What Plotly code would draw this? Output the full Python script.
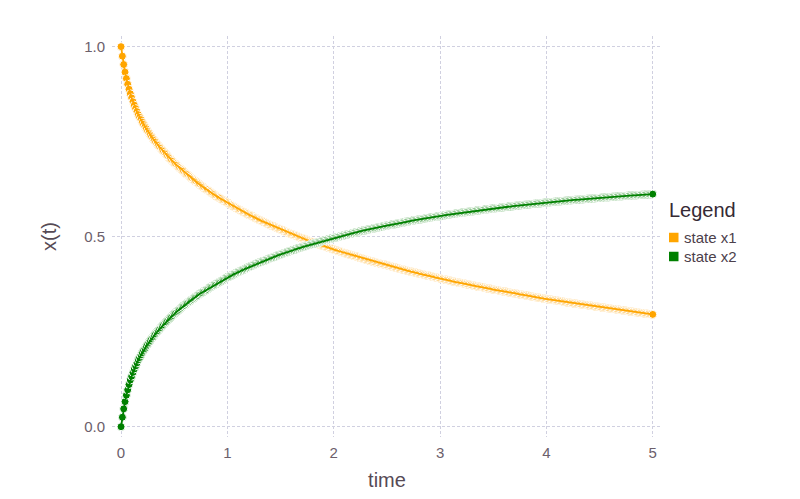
import plotly.graph_objects as go

# solver output, saved every 0.0125 time units (one row = a quarter unit)
time = [
    0.0,
    0.0125, 0.025, 0.0375, 0.05, 0.0625, 0.075, 0.0875, 0.1, 0.1125, 0.125, 0.1375, 0.15, 0.1625, 0.175, 0.1875, 0.2, 0.2125, 0.225, 0.2375, 0.25,
    0.2625, 0.275, 0.2875, 0.3, 0.3125, 0.325, 0.3375, 0.35, 0.3625, 0.375, 0.3875, 0.4, 0.4125, 0.425, 0.4375, 0.45, 0.4625, 0.475, 0.4875, 0.5,
    0.5125, 0.525, 0.5375, 0.55, 0.5625, 0.575, 0.5875, 0.6, 0.6125, 0.625, 0.6375, 0.65, 0.6625, 0.675, 0.6875, 0.7, 0.7125, 0.725, 0.7375, 0.75,
    0.7625, 0.775, 0.7875, 0.8, 0.8125, 0.825, 0.8375, 0.85, 0.8625, 0.875, 0.8875, 0.9, 0.9125, 0.925, 0.9375, 0.95, 0.9625, 0.975, 0.9875, 1.0,
    1.0125, 1.025, 1.0375, 1.05, 1.0625, 1.075, 1.0875, 1.1, 1.1125, 1.125, 1.1375, 1.15, 1.1625, 1.175, 1.1875, 1.2, 1.2125, 1.225, 1.2375, 1.25,
    1.2625, 1.275, 1.2875, 1.3, 1.3125, 1.325, 1.3375, 1.35, 1.3625, 1.375, 1.3875, 1.4, 1.4125, 1.425, 1.4375, 1.45, 1.4625, 1.475, 1.4875, 1.5,
    1.5125, 1.525, 1.5375, 1.55, 1.5625, 1.575, 1.5875, 1.6, 1.6125, 1.625, 1.6375, 1.65, 1.6625, 1.675, 1.6875, 1.7, 1.7125, 1.725, 1.7375, 1.75,
    1.7625, 1.775, 1.7875, 1.8, 1.8125, 1.825, 1.8375, 1.85, 1.8625, 1.875, 1.8875, 1.9, 1.9125, 1.925, 1.9375, 1.95, 1.9625, 1.975, 1.9875, 2.0,
    2.0125, 2.025, 2.0375, 2.05, 2.0625, 2.075, 2.0875, 2.1, 2.1125, 2.125, 2.1375, 2.15, 2.1625, 2.175, 2.1875, 2.2, 2.2125, 2.225, 2.2375, 2.25,
    2.2625, 2.275, 2.2875, 2.3, 2.3125, 2.325, 2.3375, 2.35, 2.3625, 2.375, 2.3875, 2.4, 2.4125, 2.425, 2.4375, 2.45, 2.4625, 2.475, 2.4875, 2.5,
    2.5125, 2.525, 2.5375, 2.55, 2.5625, 2.575, 2.5875, 2.6, 2.6125, 2.625, 2.6375, 2.65, 2.6625, 2.675, 2.6875, 2.7, 2.7125, 2.725, 2.7375, 2.75,
    2.7625, 2.775, 2.7875, 2.8, 2.8125, 2.825, 2.8375, 2.85, 2.8625, 2.875, 2.8875, 2.9, 2.9125, 2.925, 2.9375, 2.95, 2.9625, 2.975, 2.9875, 3.0,
    3.0125, 3.025, 3.0375, 3.05, 3.0625, 3.075, 3.0875, 3.1, 3.1125, 3.125, 3.1375, 3.15, 3.1625, 3.175, 3.1875, 3.2, 3.2125, 3.225, 3.2375, 3.25,
    3.2625, 3.275, 3.2875, 3.3, 3.3125, 3.325, 3.3375, 3.35, 3.3625, 3.375, 3.3875, 3.4, 3.4125, 3.425, 3.4375, 3.45, 3.4625, 3.475, 3.4875, 3.5,
    3.5125, 3.525, 3.5375, 3.55, 3.5625, 3.575, 3.5875, 3.6, 3.6125, 3.625, 3.6375, 3.65, 3.6625, 3.675, 3.6875, 3.7, 3.7125, 3.725, 3.7375, 3.75,
    3.7625, 3.775, 3.7875, 3.8, 3.8125, 3.825, 3.8375, 3.85, 3.8625, 3.875, 3.8875, 3.9, 3.9125, 3.925, 3.9375, 3.95, 3.9625, 3.975, 3.9875, 4.0,
    4.0125, 4.025, 4.0375, 4.05, 4.0625, 4.075, 4.0875, 4.1, 4.1125, 4.125, 4.1375, 4.15, 4.1625, 4.175, 4.1875, 4.2, 4.2125, 4.225, 4.2375, 4.25,
    4.2625, 4.275, 4.2875, 4.3, 4.3125, 4.325, 4.3375, 4.35, 4.3625, 4.375, 4.3875, 4.4, 4.4125, 4.425, 4.4375, 4.45, 4.4625, 4.475, 4.4875, 4.5,
    4.5125, 4.525, 4.5375, 4.55, 4.5625, 4.575, 4.5875, 4.6, 4.6125, 4.625, 4.6375, 4.65, 4.6625, 4.675, 4.6875, 4.7, 4.7125, 4.725, 4.7375, 4.75,
    4.7625, 4.775, 4.7875, 4.8, 4.8125, 4.825, 4.8375, 4.85, 4.8625, 4.875, 4.8875, 4.9, 4.9125, 4.925, 4.9375, 4.95, 4.9625, 4.975, 4.9875, 5.0,
]

state_x1 = [
    1.0,
    0.975, 0.953, 0.933, 0.916, 0.901, 0.888, 0.876, 0.865, 0.855, 0.846, 0.837, 0.829, 0.821, 0.814, 0.808, 0.801, 0.795, 0.789, 0.784, 0.778,
    0.773, 0.768, 0.763, 0.758, 0.753, 0.749, 0.744, 0.740, 0.736, 0.732, 0.728, 0.724, 0.720, 0.716, 0.712, 0.708, 0.705, 0.701, 0.698, 0.694,
    0.691, 0.688, 0.684, 0.681, 0.678, 0.675, 0.672, 0.668, 0.665, 0.663, 0.660, 0.657, 0.654, 0.651, 0.648, 0.646, 0.643, 0.640, 0.638, 0.635,
    0.632, 0.630, 0.627, 0.625, 0.623, 0.620, 0.618, 0.615, 0.613, 0.611, 0.608, 0.606, 0.604, 0.602, 0.600, 0.597, 0.595, 0.593, 0.591, 0.589,
    0.587, 0.585, 0.583, 0.581, 0.579, 0.577, 0.575, 0.573, 0.571, 0.569, 0.567, 0.565, 0.5635, 0.562, 0.560, 0.558, 0.5565, 0.555, 0.553, 0.551,
    0.5495, 0.548, 0.546, 0.544, 0.5425, 0.541, 0.5395, 0.538, 0.536, 0.534, 0.5325, 0.531, 0.5295, 0.528, 0.5265, 0.525, 0.5235, 0.522, 0.5205, 0.519,
    0.5175, 0.516, 0.5145, 0.513, 0.5115, 0.510, 0.5085, 0.507, 0.506, 0.505, 0.5035, 0.502, 0.5005, 0.499, 0.4975, 0.496, 0.495, 0.494, 0.4925, 0.491,
    0.4895, 0.488, 0.487, 0.486, 0.4845, 0.483, 0.482, 0.481, 0.4795, 0.478, 0.477, 0.476, 0.475, 0.474, 0.4725, 0.471, 0.470, 0.469, 0.4675, 0.466,
    0.465, 0.464, 0.463, 0.462, 0.461, 0.460, 0.4585, 0.457, 0.456, 0.455, 0.454, 0.453, 0.452, 0.451, 0.450, 0.449, 0.448, 0.447, 0.4455, 0.444,
    0.443, 0.442, 0.441, 0.440, 0.439, 0.438, 0.437, 0.436, 0.435, 0.434, 0.433, 0.432, 0.431, 0.430, 0.429, 0.428, 0.4275, 0.427, 0.426, 0.425,
    0.424, 0.423, 0.422, 0.421, 0.420, 0.419, 0.418, 0.417, 0.416, 0.415, 0.4145, 0.414, 0.413, 0.412, 0.411, 0.410, 0.409, 0.408, 0.4075, 0.407,
    0.406, 0.405, 0.404, 0.403, 0.4025, 0.402, 0.401, 0.400, 0.399, 0.398, 0.3975, 0.397, 0.396, 0.395, 0.394, 0.393, 0.3925, 0.392, 0.391, 0.390,
    0.3895, 0.389, 0.388, 0.387, 0.3865, 0.386, 0.385, 0.384, 0.383, 0.382, 0.3815, 0.381, 0.380, 0.379, 0.3785, 0.378, 0.3775, 0.377, 0.376, 0.375,
    0.3745, 0.374, 0.373, 0.372, 0.3715, 0.371, 0.370, 0.369, 0.3685, 0.368, 0.3675, 0.367, 0.366, 0.365, 0.3645, 0.364, 0.3635, 0.363, 0.362, 0.361,
    0.3605, 0.360, 0.3595, 0.359, 0.358, 0.357, 0.3565, 0.356, 0.3555, 0.355, 0.354, 0.353, 0.3525, 0.352, 0.3515, 0.351, 0.3505, 0.350, 0.349, 0.348,
    0.3475, 0.347, 0.3465, 0.346, 0.3455, 0.345, 0.344, 0.343, 0.3425, 0.342, 0.3415, 0.341, 0.3405, 0.340, 0.3395, 0.339, 0.338, 0.337, 0.3365, 0.336,
    0.3355, 0.335, 0.3345, 0.334, 0.3335, 0.333, 0.3325, 0.332, 0.3315, 0.331, 0.3305, 0.330, 0.329, 0.328, 0.3275, 0.327, 0.3265, 0.326, 0.3255, 0.325,
    0.3245, 0.324, 0.3235, 0.323, 0.3225, 0.322, 0.3215, 0.321, 0.3205, 0.320, 0.3195, 0.319, 0.3185, 0.318, 0.3175, 0.317, 0.3165, 0.316, 0.3155, 0.315,
    0.3145, 0.314, 0.3135, 0.313, 0.3125, 0.312, 0.3115, 0.311, 0.3105, 0.310, 0.3095, 0.309, 0.3085, 0.308, 0.3075, 0.307, 0.3065, 0.306, 0.3055, 0.305,
    0.3045, 0.304, 0.3035, 0.303, 0.3025, 0.302, 0.3015, 0.301, 0.3005, 0.300, 0.2995, 0.299, 0.2985, 0.298, 0.2975, 0.297, 0.2967, 0.2964, 0.296, 0.2955,
]

state_x2 = [
    0.0,
    0.025, 0.047, 0.066, 0.083, 0.097, 0.111, 0.123, 0.133, 0.143, 0.152, 0.160, 0.168, 0.176, 0.182, 0.189, 0.195, 0.201, 0.206, 0.212, 0.217,
    0.222, 0.227, 0.232, 0.236, 0.241, 0.245, 0.249, 0.253, 0.257, 0.261, 0.265, 0.269, 0.273, 0.276, 0.280, 0.283, 0.287, 0.290, 0.293, 0.297,
    0.300, 0.303, 0.306, 0.309, 0.312, 0.315, 0.318, 0.320, 0.323, 0.326, 0.329, 0.331, 0.334, 0.336, 0.339, 0.342, 0.344, 0.346, 0.349, 0.351,
    0.353, 0.356, 0.358, 0.360, 0.362, 0.365, 0.367, 0.369, 0.371, 0.373, 0.375, 0.377, 0.379, 0.381, 0.383, 0.385, 0.387, 0.389, 0.391, 0.393,
    0.3945, 0.396, 0.398, 0.400, 0.4015, 0.403, 0.405, 0.407, 0.4085, 0.410, 0.4115, 0.413, 0.4145, 0.416, 0.418, 0.420, 0.4215, 0.423, 0.4245, 0.426,
    0.4275, 0.429, 0.4305, 0.432, 0.4335, 0.435, 0.436, 0.437, 0.4385, 0.440, 0.4415, 0.443, 0.444, 0.445, 0.4465, 0.448, 0.4495, 0.451, 0.452, 0.453,
    0.4545, 0.456, 0.457, 0.458, 0.4595, 0.461, 0.462, 0.463, 0.464, 0.465, 0.4665, 0.468, 0.469, 0.470, 0.471, 0.472, 0.473, 0.474, 0.4755, 0.477,
    0.478, 0.479, 0.480, 0.481, 0.482, 0.483, 0.484, 0.485, 0.486, 0.487, 0.488, 0.489, 0.490, 0.491, 0.492, 0.493, 0.494, 0.495, 0.496, 0.497,
    0.4975, 0.498, 0.499, 0.500, 0.501, 0.502, 0.503, 0.504, 0.505, 0.506, 0.5065, 0.507, 0.508, 0.509, 0.510, 0.511, 0.5115, 0.512, 0.513, 0.514,
    0.515, 0.516, 0.5165, 0.517, 0.518, 0.519, 0.5195, 0.520, 0.521, 0.522, 0.5225, 0.523, 0.524, 0.525, 0.5255, 0.526, 0.527, 0.528, 0.5285, 0.529,
    0.530, 0.531, 0.5315, 0.532, 0.5325, 0.533, 0.534, 0.535, 0.5355, 0.536, 0.5365, 0.537, 0.538, 0.539, 0.5395, 0.540, 0.5405, 0.541, 0.542, 0.543,
    0.5435, 0.544, 0.5445, 0.545, 0.5455, 0.546, 0.5465, 0.547, 0.548, 0.549, 0.5495, 0.550, 0.5505, 0.551, 0.5515, 0.552, 0.5525, 0.553, 0.5535, 0.554,
    0.5545, 0.555, 0.556, 0.557, 0.5575, 0.558, 0.5585, 0.559, 0.5595, 0.560, 0.5605, 0.561, 0.5615, 0.562, 0.5625, 0.563, 0.5635, 0.564, 0.5645, 0.565,
    0.5653, 0.5658, 0.5663, 0.5667, 0.5672, 0.5677, 0.5682, 0.5686, 0.5691, 0.5696, 0.5700, 0.5705, 0.5709, 0.5714, 0.5719, 0.5723, 0.5728, 0.5732, 0.5736, 0.5741,
    0.5745, 0.5749, 0.5754, 0.5758, 0.5762, 0.5767, 0.5771, 0.5775, 0.5779, 0.5783, 0.5787, 0.5792, 0.5796, 0.5800, 0.5804, 0.5808, 0.5812, 0.5816, 0.5819, 0.5823,
    0.5827, 0.5831, 0.5835, 0.5839, 0.5843, 0.5846, 0.5850, 0.5854, 0.5858, 0.5861, 0.5865, 0.5869, 0.5872, 0.5876, 0.5879, 0.5883, 0.5886, 0.5890, 0.5893, 0.5897,
    0.5900, 0.5904, 0.5907, 0.5911, 0.5914, 0.5917, 0.5921, 0.5924, 0.5927, 0.5931, 0.5934, 0.5937, 0.5940, 0.5944, 0.5947, 0.5950, 0.5953, 0.5956, 0.5959, 0.5963,
    0.5966, 0.5969, 0.5972, 0.5975, 0.5978, 0.5981, 0.5984, 0.5987, 0.5990, 0.5993, 0.5996, 0.5998, 0.6001, 0.6004, 0.6007, 0.6010, 0.6013, 0.6015, 0.6018, 0.6021,
    0.6024, 0.6026, 0.6029, 0.6032, 0.6035, 0.6037, 0.6040, 0.6043, 0.6045, 0.6048, 0.6050, 0.6053, 0.6056, 0.6058, 0.6061, 0.6063, 0.6066, 0.6068, 0.6071, 0.6073,
    0.6076, 0.6078, 0.6081, 0.6083, 0.6085, 0.6088, 0.6090, 0.6092, 0.6095, 0.6097, 0.6099, 0.6102, 0.6104, 0.6106, 0.6109, 0.6111, 0.6113, 0.6115, 0.6118, 0.6120,
]

series_names = ["state x1", "state x2"]
series_colors = ["#FFA500", "#008000"]
x_ticks = [0, 1, 2, 3, 4, 5]
y_ticks = [0.0, 0.5, 1.0]

FONT = "Liberation Sans, Arial, sans-serif"

fig = go.Figure()

for vals, name, col in zip([state_x1, state_x2], series_names, series_colors):
    # points first, line drawn on top of them
    fig.add_trace(go.Scatter(
        x=time, y=vals, mode="markers", showlegend=False, hoverinfo="skip",
        marker=dict(size=8, color=col, line=dict(color="white", width=1.0)),
    ))
    fig.add_trace(go.Scatter(
        x=time, y=vals, mode="lines", name=name, showlegend=False,
        line=dict(color=col, width=1.8),
    ))

grid = dict(showgrid=True, gridcolor="#D0D0E0", gridwidth=1, griddash="3px,2px",
            zeroline=False, showline=False, ticks="", automargin=False,
            tickfont=dict(family=FONT, size=15, color="#6C606B"))

fig.update_xaxes(range=[-0.085, 5.087], tickvals=x_ticks, ticklabelstandoff=5,
                 title=dict(text="time", standoff=20,
                            font=dict(family=FONT, size=20, color="#564A55")),
                 **grid)
fig.update_yaxes(range=[-0.027, 1.028], tickvals=y_ticks, tickformat=".1f",
                 ticklabelstandoff=6,
                 title=dict(text="x(t)", standoff=22,
                            font=dict(family=FONT, size=20, color="#564A55")),
                 **grid)

# the page is drawn 8px in from the window corner, so the figure is 16px smaller
FW, FH = 784, 483
L, T, W, H = 104, 28, 550, 401   # plot panel in figure pixels


def px(x):
    return (x - L) / W


def py(y):
    return (T + H - y) / H


# hand-placed legend in the right margin (square keys, tight spacing)
fig.add_annotation(text="Legend", x=px(659), y=py(202), xref="paper", yref="paper",
                   xanchor="left", yanchor="middle", showarrow=False,
                   font=dict(family=FONT, size=20, color="#362A35"))
for i, (name, col) in enumerate(zip(series_names, series_colors)):
    yc = 229.5 + 19 * i
    fig.add_shape(type="rect", xref="paper", yref="paper",
                  x0=px(661), x1=px(670.5), y0=py(yc + 4.75), y1=py(yc - 4.75),
                  fillcolor=col, line=dict(width=0))
    fig.add_annotation(text=name, x=px(674), y=py(yc), xref="paper", yref="paper",
                       xanchor="left", yanchor="middle", showarrow=False,
                       font=dict(family=FONT, size=15, color="#4C404B"))

fig.update_layout(
    width=FW, height=FH,
    margin=dict(l=L, r=FW - L - W, t=T, b=FH - T - H),
    paper_bgcolor="white", plot_bgcolor="white",
    font=dict(family=FONT),
    showlegend=False,
)

fig.write_html("out.html")
